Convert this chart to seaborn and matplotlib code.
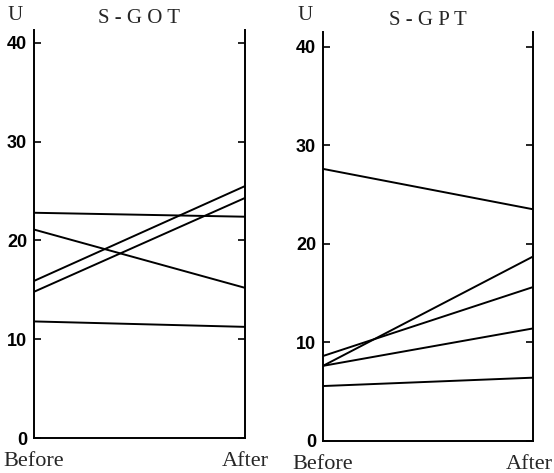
import numpy as np
import matplotlib
matplotlib.use("Agg")
import matplotlib.pyplot as plt
import matplotlib.transforms as mtransforms
import pandas as pd
import seaborn as sns

# values (U)
times = ["Before", "After"]
got_before = [22.8, 21.1, 15.9, 14.8, 11.8]
got_after = [22.4, 15.2, 25.5, 24.3, 11.25]
gpt_before = [27.6, 7.6, 8.6, 7.6, 5.55]
gpt_after = [23.5, 18.7, 15.6, 11.4, 6.4]
yticks = [0, 10, 20, 30, 40]


def long_df(before, after):
    rows = []
    for i, (b, a) in enumerate(zip(before, after)):
        rows.append({"subject": i, "time": times[0], "value": b})
        rows.append({"subject": i, "time": times[1], "value": a})
    return pd.DataFrame(rows)


sns.set_style("white")
serif = ["Liberation Serif", "DejaVu Serif"]
tickfont = ["Liberation Sans Narrow", "Liberation Sans", "DejaVu Sans"]

fig = plt.figure(figsize=(5.54, 4.73), dpi=100)
W, H = 554, 473

panels = [
    ("S - G O T", got_before, got_after, 34, 245, 438, 30, 41.3),
    ("S - G P T", gpt_before, gpt_after, 323, 533, 440.7, 32, 41.5),
]

for k, (title, before, after, x0, x1, ybot, ytop, ymax) in enumerate(panels):
    ax = fig.add_axes([x0 / W, (H - ybot) / H, (x1 - x0) / W, (ybot - ytop) / H])
    df = long_df(before, after)
    sns.lineplot(data=df, x="time", y="value", units="subject", estimator=None,
                 color="black", linewidth=1.4, ax=ax, legend=False)
    ax.set_xlim(0, 1)
    ax.set_ylim(0, ymax)
    ax.set_yticks(yticks)
    ax.set_xlabel("")
    ax.set_ylabel("")
    for s in ["left", "right", "bottom"]:
        ax.spines[s].set_visible(True)
        ax.spines[s].set_color("black")
        ax.spines[s].set_linewidth(1.4)
    ax.spines["top"].set_visible(False)
    ax.tick_params(axis="y", direction="in", length=5, width=1.2, pad=5,
                   left=True, right=True, labelright=False, colors="black")
    ax.tick_params(axis="x", length=0, pad=10)
    for lab in ax.get_yticklabels():
        lab.set_fontfamily(tickfont)
        lab.set_fontweight("bold")
        lab.set_fontsize(13)
    xlabs = ax.get_xticklabels()
    for lab in xlabs:
        lab.set_fontfamily(serif)
        lab.set_fontsize(16)
    if k == 1:
        # the last "After" sits against the right edge of the page
        xlabs[1].set_horizontalalignment("right")
        xlabs[1].set_transform(xlabs[1].get_transform() +
                               mtransforms.ScaledTranslation(0.20, 0, fig.dpi_scale_trans))
    ax.set_title(title, fontfamily=serif, fontsize=15, pad=5)
    fig.text((x0 - 26) / W, (H - 15) / H, "U", fontfamily=serif, fontsize=15,
             va="center", ha="left")

fig.savefig("out.png", dpi=100)
